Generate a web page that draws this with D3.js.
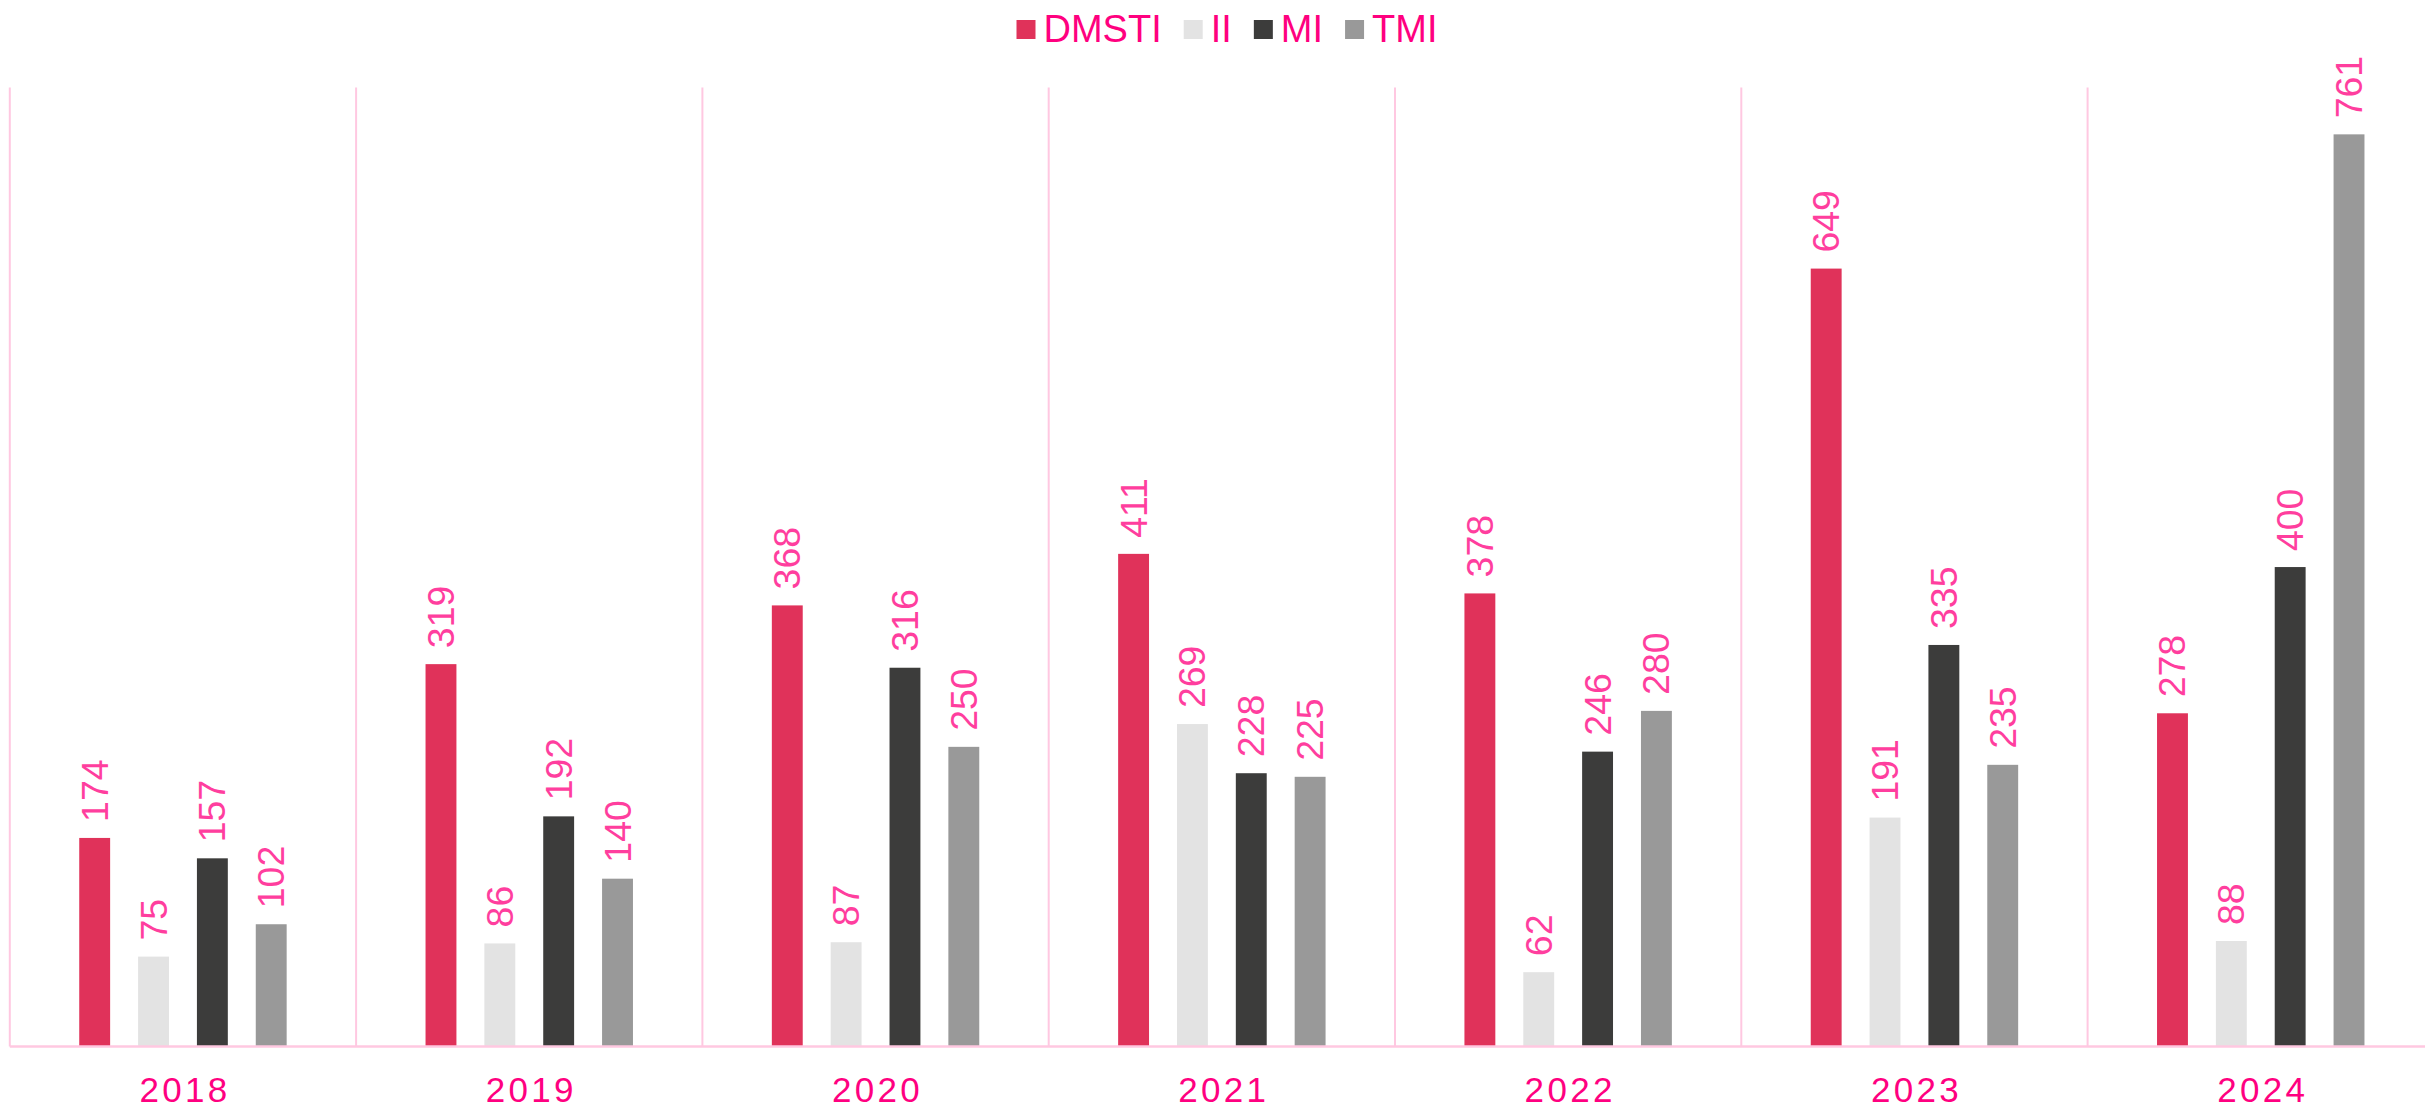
<!DOCTYPE html>
<html>
<head>
<meta charset="utf-8">
<script src="https://cdn.jsdelivr.net/npm/d3@7"></script>
<style>
  html, body { margin: 0; padding: 0; background: #fff; }
  svg { display: block; }
  text { font-family: "Liberation Sans", Arial, sans-serif; }
</style>
</head>
<body>
<svg id="chart"></svg>
<script>
var years = ["2018", "2019", "2020", "2021", "2022", "2023", "2024"];
var seriesNames = ["DMSTI", "II", "MI", "TMI"];
var seriesColors = ["#e0325a", "#e3e3e3", "#3c3c3b", "#999999"];
var dmsti = [174, 319, 368, 411, 378, 649, 278];
var ii = [75, 86, 87, 269, 62, 191, 88];
var mi = [157, 192, 316, 228, 246, 335, 400];
var tmi = [102, 140, 250, 225, 280, 235, 761];
var yMax = 800;

var width = 2425, height = 1110;
var seriesValues = [dmsti, ii, mi, tmi];

var svg = d3.select("#chart")
    .attr("width", width)
    .attr("height", height);

var x0 = d3.scaleBand()
    .domain(years)
    .range([9.8, 9.8 + 7 * 346.3])
    .padding(0);

var x1 = d3.scaleBand()
    .domain(seriesNames)
    .range([0, x0.bandwidth()])
    .paddingInner(0.475)
    .paddingOuter(1.18);

var y = d3.scaleLinear()
    .domain([0, yMax])
    .range([1046.5, 87.6]);

// rows per year
var rows = years.map(function(yr, i){
    return seriesNames.map(function(s, j){
        return {year: yr, key: s, value: seriesValues[j][i], color: seriesColors[j]};
    });
});

var gridColor = "#ffc8e1";

// vertical separators
svg.append("g")
    .selectAll("line")
    .data(years.concat(["end"]))
    .enter()
    .append("line")
    .attr("x1", function(d, i){ return x0.range()[0] + i * x0.step(); })
    .attr("x2", function(d, i){ return x0.range()[0] + i * x0.step(); })
    .attr("y1", y(yMax))
    .attr("y2", y(0))
    .attr("stroke", gridColor)
    .attr("stroke-width", 2);

var groups = svg.selectAll(".year")
    .data(rows)
    .enter()
    .append("g")
    .attr("class", "year")
    .attr("transform", function(d, i){ return "translate(" + x0(years[i]) + ",0)"; });

groups.selectAll("rect")
    .data(function(d){ return d; })
    .enter()
    .append("rect")
    .attr("x", function(d){ return x1(d.key); })
    .attr("y", function(d){ return y(d.value); })
    .attr("width", x1.bandwidth())
    .attr("height", function(d){ return y(0) - y(d.value); })
    .attr("fill", function(d){ return d.color; });

groups.selectAll(".val")
    .data(function(d){ return d; })
    .enter()
    .append("text")
    .attr("class", "val")
    .attr("transform", function(d){
        var cx = x1(d.key) + x1.bandwidth() / 2 + 13;
        return "translate(" + cx + "," + (y(d.value) - 16) + ") rotate(-90) scale(1.04,1)";
    })
    .attr("text-anchor", "start")
    .attr("fill", "#ff3e9e")
    .style("font-size", "36px")
    .text(function(d){ return d.value; });

// x axis
var xAxis = svg.append("g")
    .attr("transform", "translate(0," + y(0) + ")")
    .call(d3.axisBottom(x0).tickSize(0).tickPadding(0));
xAxis.select(".domain")
    .attr("d", "M" + x0.range()[0] + ",0H" + x0.range()[1])
    .attr("stroke", gridColor)
    .attr("stroke-width", 2.4);
xAxis.selectAll(".tick text")
    .attr("dy", null)
    .attr("y", 55)
    .attr("dx", "2px")
    .attr("fill", "#ff0080")
    .style("font-size", "35px")
    .style("letter-spacing", "3.3px")
    .style("font-family", "'Liberation Sans', Arial, sans-serif");

// legend
var legend = svg.append("g");
var lx = 0;
seriesNames.forEach(function(s, j){
    var it = legend.append("g").attr("transform", "translate(" + lx + ",0)");
    it.append("rect")
        .attr("x", 0).attr("y", 20)
        .attr("width", 19).attr("height", 19)
        .attr("fill", seriesColors[j]);
    var t = it.append("text")
        .attr("x", 27).attr("y", 41.5)
        .attr("fill", "#ff007f")
        .style("font-size", "38px")
        .text(s);
    lx += 27 + t.node().getComputedTextLength() + 22;
});
var lw = lx - 22;
legend.attr("transform", "translate(" + (1227 - lw / 2) + ",0)");
</script>
</body>
</html>
